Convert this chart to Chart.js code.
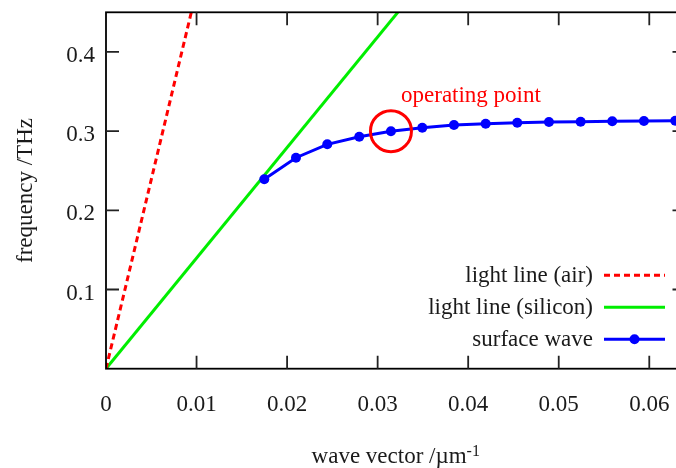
<!DOCTYPE html>
<html>
<head>
<meta charset="utf-8">
<script src="https://cdn.jsdelivr.net/npm/chart.js@4"></script>
<style>
html, body { margin: 0; padding: 0; background: #fff; overflow: hidden; }
#wrap { width: 676px; height: 468px; overflow: hidden; }
</style>
</head>
<body>
<div id="wrap"><canvas id="dispersion" width="690" height="468"></canvas></div>
<script>
// values
const waveVector = [0.01748, 0.02098, 0.02444, 0.02797, 0.03147, 0.03493, 0.03843,
                    0.04193, 0.04542, 0.04892, 0.05242, 0.05591, 0.05941, 0.06287];
const frequency  = [0.2391, 0.2664, 0.2833, 0.2929, 0.2999, 0.3043, 0.3077,
                    0.3093, 0.3106, 0.3115, 0.3119, 0.3124, 0.3128, 0.3131];
const airLineK = [0, 0.00942];
const airLineF = [0, 0.45];
const siliconLineK = [0, 0.03223];
const siliconLineF = [0, 0.45];
const operatingK = 0.03147;
const operatingF = 0.2999;

const xTicks = [0, 0.01, 0.02, 0.03, 0.04, 0.05, 0.06];
const xTickLabels = ['0', '0.01', '0.02', '0.03', '0.04', '0.05', '0.06'];
const yTicks = [0.1, 0.2, 0.3, 0.4];
const yTickLabels = ['0.1', '0.2', '0.3', '0.4'];

const FONT = '"Liberation Serif", "Times New Roman", serif';
const SIZE = 23;
const TEXT = '#1a1a1a';

function toPoints(xs, ys) {
    return xs.map((x, i) => ({x: x, y: ys[i]}));
}

// frame with inward ticks, tick labels, legend, titles and the annotation text
// (tick labels are drawn here so the plot box is not shrunk for them)
const decorations = {
    id: 'decorations',
    afterDraw(chart) {
        const ctx = chart.ctx;
        const a = chart.chartArea;
        const xs = chart.scales.x, ys = chart.scales.y;
        ctx.save();

        // frame
        ctx.strokeStyle = '#000';
        ctx.lineWidth = 1.8;
        ctx.strokeRect(a.left, a.top, a.right - a.left, a.bottom - a.top);

        // inward ticks, mirrored
        ctx.strokeStyle = '#222';
        ctx.lineWidth = 1.8;
        const tl = 13;
        ctx.beginPath();
        xTicks.forEach(v => {
            if (v === 0) return;
            const px = xs.getPixelForValue(v);
            ctx.moveTo(px, a.bottom); ctx.lineTo(px, a.bottom - tl);
            ctx.moveTo(px, a.top); ctx.lineTo(px, a.top + tl);
        });
        yTicks.forEach(v => {
            const py = ys.getPixelForValue(v);
            ctx.moveTo(a.left, py); ctx.lineTo(a.left + tl, py);
            ctx.moveTo(a.right, py); ctx.lineTo(a.right - tl, py);
        });
        ctx.stroke();

        // tick labels
        ctx.fillStyle = TEXT;
        ctx.font = SIZE + 'px ' + FONT;
        ctx.textBaseline = 'alphabetic';
        ctx.textAlign = 'center';
        xTicks.forEach((v, i) => {
            ctx.fillText(xTickLabels[i], xs.getPixelForValue(v), a.bottom + 42);
        });
        ctx.textAlign = 'right';
        yTicks.forEach((v, i) => {
            ctx.fillText(yTickLabels[i], a.left - 11, ys.getPixelForValue(v) + 10);
        });

        // axis titles
        const main = 'wave vector /µm';
        ctx.font = '16px ' + FONT;
        const supW = ctx.measureText('-1').width;
        ctx.font = SIZE + 'px ' + FONT;
        const mainW = ctx.measureText(main).width;
        const cx = (a.left + a.right) / 2;
        const startX = cx - (mainW + supW) / 2;
        ctx.textAlign = 'left';
        ctx.fillText(main, startX, 463);
        ctx.font = '16px ' + FONT;
        ctx.fillText('-1', startX + mainW, 456);

        ctx.save();
        ctx.font = SIZE + 'px ' + FONT;
        ctx.translate(32, (a.top + a.bottom) / 2);
        ctx.rotate(-Math.PI / 2);
        ctx.textAlign = 'center';
        ctx.fillText('frequency /THz', 0, 0);
        ctx.restore();

        // operating point label
        const opx = xs.getPixelForValue(operatingK);
        const opy = ys.getPixelForValue(operatingF);
        ctx.fillStyle = '#ff0000';
        ctx.font = SIZE + 'px ' + FONT;
        ctx.textAlign = 'center';
        ctx.fillText('operating point', opx + 80, opy - 29);

        // legend
        const rows = chart.data.datasets.filter(d => d.inLegend);
        rows.forEach((ds, i) => {
            const y = a.bottom - 29.5 - (rows.length - 1 - i) * 32;
            const x1 = a.right - 81.5, x2 = a.right - 20.5;
            ctx.fillStyle = TEXT;
            ctx.textAlign = 'right';
            ctx.textBaseline = 'middle';
            ctx.font = SIZE + 'px ' + FONT;
            ctx.fillText(ds.label, x1 - 11, y + 1);
            ctx.strokeStyle = ds.borderColor;
            ctx.lineWidth = ds.borderWidth;
            ctx.setLineDash(ds.borderDash || []);
            ctx.beginPath();
            ctx.moveTo(x1, y); ctx.lineTo(x2, y);
            ctx.stroke();
            ctx.setLineDash([]);
            if (ds.pointRadius > 0) {
                ctx.fillStyle = ds.pointBackgroundColor;
                ctx.beginPath();
                ctx.arc((x1 + x2) / 2, y, ds.pointRadius, 0, Math.PI * 2);
                ctx.fill();
            }
        });
        ctx.restore();
    }
};

new Chart(document.getElementById('dispersion'), {
    type: 'scatter',
    data: {
        datasets: [
            {
                label: 'operating point',
                data: [{x: operatingK, y: operatingF}],
                showLine: false,
                pointRadius: 20.5,
                pointBackgroundColor: 'rgba(0,0,0,0)',
                pointBorderColor: '#ff0000',
                pointBorderWidth: 3,
                order: 0
            },
            {
                label: 'light line (air)',
                data: toPoints(airLineK, airLineF),
                showLine: true,
                borderColor: '#ff0000',
                borderWidth: 3,
                borderDash: [6, 4],
                pointRadius: 0,
                inLegend: true,
                order: 3
            },
            {
                label: 'light line (silicon)',
                data: toPoints(siliconLineK, siliconLineF),
                showLine: true,
                borderColor: '#00ee00',
                borderWidth: 3,
                pointRadius: 0,
                inLegend: true,
                order: 4
            },
            {
                label: 'surface wave',
                data: toPoints(waveVector, frequency),
                showLine: true,
                borderColor: '#0000ff',
                borderWidth: 3,
                pointRadius: 5,
                pointBackgroundColor: '#0000ff',
                pointBorderColor: '#0000ff',
                pointBorderWidth: 0,
                inLegend: true,
                order: 1
            }
        ]
    },
    options: {
        responsive: false,
        animation: false,
        devicePixelRatio: 1,
        layout: { autoPadding: false, padding: { top: 12.3, right: 4.5, left: 0, bottom: 0 } },
        plugins: {
            legend: { display: false },
            tooltip: { enabled: false }
        },
        scales: {
            x: {
                type: 'linear',
                min: 0,
                max: 0.064,
                afterBuildTicks: s => { s.ticks = xTicks.map(v => ({value: v})); },
                afterFit: s => { s.height = 99.3; },
                grid: { display: false, drawTicks: false },
                border: { display: false },
                ticks: { display: false }
            },
            y: {
                type: 'linear',
                min: 0,
                max: 0.45,
                afterBuildTicks: s => { s.ticks = yTicks.map(v => ({value: v})); },
                afterFit: s => { s.width = 106; },
                grid: { display: false, drawTicks: false },
                border: { display: false },
                ticks: { display: false }
            }
        }
    },
    plugins: [decorations]
});
</script>
</body>
</html>
